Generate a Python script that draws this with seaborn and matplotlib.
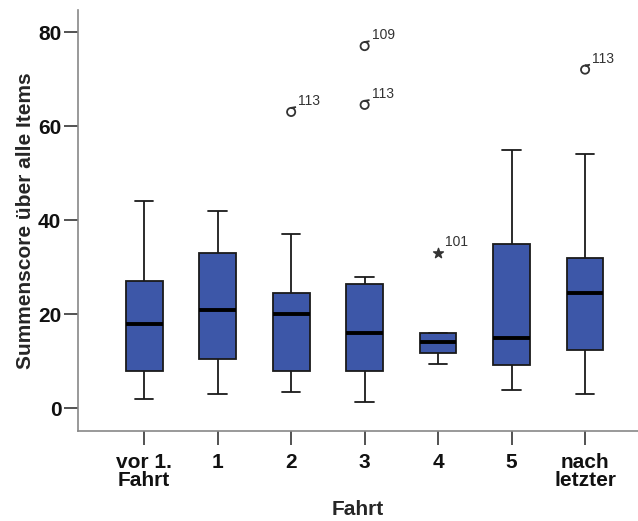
import pandas as pd
import seaborn as sns
import matplotlib.pyplot as plt
from matplotlib.path import Path

sns.set_style("ticks")
plt.rcParams["font.family"] = ["Liberation Sans", "DejaVu Sans"]

# five-number summary per Fahrt
fahrt = ["vor 1.\nFahrt", "1", "2", "3", "4", "5", "nach\nletzter"]
whisker_low = [2, 3, 3.4, 1.3, 9.4, 3.8, 3]
q1 = [8, 10.4, 8, 8, 11.8, 9.3, 12.4]
median = [18, 21, 20, 16, 14, 15, 24.5]
q3 = [27, 33, 24.5, 26.5, 16, 35, 32]
whisker_high = [44, 42, 37, 28, 16, 55, 54]

# outliers (circles) and extremes (stars) with case numbers
outlier_group = ["2", "3", "3", "nach\nletzter"]
outlier_value = [63, 77, 64.5, 72]
outlier_case = ["113", "109", "113", "113"]
extreme_group = ["4"]
extreme_value = [33]
extreme_case = ["101"]

# long table: the five summary values per group
rows = []
for i, g in enumerate(fahrt):
    for v in (whisker_low[i], q1[i], median[i], q3[i], whisker_high[i]):
        rows.append({"Fahrt": g, "Score": v})
df = pd.DataFrame(rows)

fig = plt.figure(figsize=(6.38, 5.21), dpi=100)
ax = fig.add_axes([0.1223, 0.1727, 0.8777, 0.8083])

sns.boxplot(data=df, x="Fahrt", y="Score", order=fahrt, whis=(0, 100),
            width=0.5, color="#3d57a8", saturation=1, linecolor="#1a1a1a",
            linewidth=1.3, medianprops={"color": "black", "linewidth": 2.8},
            ax=ax)

# SPSS-style outlier glyph: circle with a small tail
circ = Path.unit_circle()
tail = Path([(0.0, 1.0), (1.2, 1.2)], [Path.MOVETO, Path.LINETO])
spss_o = Path.make_compound_path(circ, tail)

ox = [fahrt.index(g) for g in outlier_group]
ax.scatter(ox, outlier_value, marker=spss_o, s=50, facecolors="none",
           edgecolors="#333333", linewidths=1.3, zorder=5)
for x, y, c in zip(ox, outlier_value, outlier_case):
    ax.annotate(c, (x, y), xytext=(5, 5), textcoords="offset points",
                fontsize=10, color="#333333")

ex = [fahrt.index(g) for g in extreme_group]
ax.scatter(ex, extreme_value, marker="*", s=55, color="#333333", zorder=5)
for x, y, c in zip(ex, extreme_value, extreme_case):
    ax.annotate(c, (x, y), xytext=(5, 5), textcoords="offset points",
                fontsize=10, color="#333333")

ax.set_xlim(-0.9, 6.72)
ax.set_ylim(-4.83, 84.7)
ax.set_yticks([0, 20, 40, 60, 80])
ax.set_xlabel("Fahrt", fontsize=15, fontweight="bold", labelpad=7)
ax.set_ylabel("Summenscore über alle Items", fontsize=15, fontweight="bold",
              labelpad=2)
for lab in ax.get_xticklabels() + ax.get_yticklabels():
    lab.set_fontweight("bold")
    lab.set_fontsize(15)
    lab.set_linespacing(0.95)

sns.despine(ax=ax)
for s in ("left", "bottom"):
    ax.spines[s].set_color("#888888")
    ax.spines[s].set_linewidth(1.2)
ax.tick_params(direction="out", length=10, width=1.3, color="#444444",
               labelcolor="#111111", pad=2)
ax.tick_params(axis="x", pad=6)

fig.savefig("out.png", dpi=100)
